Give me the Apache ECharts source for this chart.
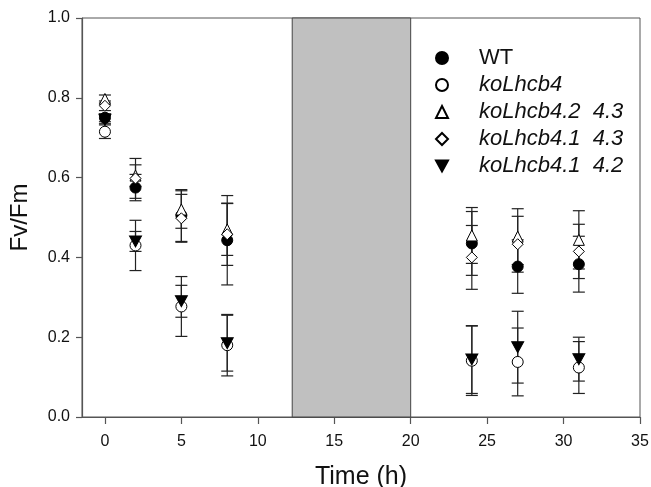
<!DOCTYPE html>
<html>
<head>
<meta charset="utf-8">
<script src="https://cdn.jsdelivr.net/npm/echarts@6/dist/echarts.min.js"></script>
<style>
  html, body { margin: 0; padding: 0; background: #fff; }
  #grafico { width: 651px; height: 487px; }
</style>
</head>
<body>
<div id="grafico"></div>
<script>
// time points (h)
var times = [0, 2, 5, 8, 24, 27, 31];
var xTicks = [0, 5, 10, 15, 20, 25, 30, 35];
// dark period shaded in grey
var darkStart = 12.25;
var darkEnd = 20;

var names = ['WT', 'koLhcb4', 'koLhcb4.2  4.3', 'koLhcb4.1  4.3', 'koLhcb4.1  4.2'];

var wtMean = [0.75, 0.575, 0.505, 0.443, 0.435, 0.377, 0.383];
var wtErr = [0.01, 0.033, 0.065, 0.112, 0.08, 0.067, 0.07];
var ko4Mean = [0.715, 0.43, 0.277, 0.18, 0.141, 0.138, 0.124];
var ko4Err = [0.017, 0.063, 0.075, 0.077, 0.087, 0.085, 0.065];
var ko4243Mean = [0.797, 0.605, 0.52, 0.47, 0.455, 0.452, 0.444];
var ko4243Err = [0.01, 0.027, 0.047, 0.065, 0.07, 0.07, 0.073];
var ko4143Mean = [0.78, 0.598, 0.498, 0.458, 0.40, 0.433, 0.415];
var ko4143Err = [0.012, 0.05, 0.06, 0.078, 0.08, 0.07, 0.068];
var ko4142Mean = [0.745, 0.44, 0.29, 0.185, 0.144, 0.175, 0.145];
var ko4142Err = [0.01, 0.025, 0.04, 0.07, 0.085, 0.09, 0.055];

var means = [wtMean, ko4Mean, ko4243Mean, ko4143Mean, ko4142Mean];
var errs = [wtErr, ko4Err, ko4243Err, ko4143Err, ko4142Err];

var symbols = ['circle', 'circle', 'triangle', 'diamond', 'path://M0,0 L10,0 L5,9 Z'];
var fills = ['#000', '#fff', '#fff', '#fff', '#000'];

var myChart = echarts.init(document.getElementById('grafico'));

// all error bars in one custom series
var errData = [];
for (var s = 0; s < means.length; s++) {
  for (var i = 0; i < times.length; i++) {
    errData.push([times[i], means[s][i] - errs[s][i], means[s][i] + errs[s][i]]);
  }
}

function renderErr(params, api) {
  var lo = api.coord([api.value(0), api.value(1)]);
  var hi = api.coord([api.value(0), api.value(2)]);
  var w = 6;
  var st = { stroke: '#222', lineWidth: 1.2 };
  return {
    type: 'group',
    children: [
      { type: 'line', shape: { x1: lo[0], y1: lo[1], x2: hi[0], y2: hi[1] }, style: st },
      { type: 'line', shape: { x1: lo[0] - w, y1: lo[1], x2: lo[0] + w, y2: lo[1] }, style: st },
      { type: 'line', shape: { x1: hi[0] - w, y1: hi[1], x2: hi[0] + w, y2: hi[1] }, style: st }
    ]
  };
}

var series = [{
  type: 'custom',
  name: 'err',
  renderItem: renderErr,
  data: errData,
  z: 3,
  silent: true,
  markArea: {
    silent: true,
    itemStyle: { color: '#c0c0c0', borderColor: '#444', borderWidth: 1 },
    data: [[{ xAxis: darkStart, yAxis: 0 }, { xAxis: darkEnd, yAxis: 1 }]]
  }
}];

for (var k = 0; k < means.length; k++) {
  series.push({
    name: names[k],
    type: 'scatter',
    symbol: symbols[k],
    symbolSize: k === 4 ? [12, 11] : 11,
    z: 4 + k,
    itemStyle: { color: fills[k], borderColor: '#000', borderWidth: 1, opacity: 1 },
    data: times.map(function (t, i) { return [t, means[k][i]]; })
  });
}

var option = {
  animation: false,
  backgroundColor: '#fff',
  textStyle: { fontFamily: 'Liberation Sans, Arial, sans-serif', color: '#111' },
  grid: {
    left: 82, right: 11, top: 18, bottom: 70,
    outerBoundsMode: 'none',
    containLabel: false,
    show: true, borderColor: '#555', borderWidth: 1
  },
  legend: {
    data: names,
    orient: 'vertical',
    left: 430,
    top: 42,
    itemWidth: 12,
    itemHeight: 12,
    itemGap: 5,
    selectedMode: false,
    textStyle: {
      fontSize: 22,
      color: '#111',
      padding: [0, 0, 0, 26],
      rich: {
        r: { fontSize: 22, color: '#111', lineHeight: 21 },
        it: { fontSize: 22, color: '#111', fontStyle: 'italic', lineHeight: 21 }
      }
    },
    formatter: function (n) {
      return n === 'WT' ? '{r|' + n + '}' : '{it|' + n + '}';
    }
  },
  xAxis: {
    type: 'value',
    min: -1.5,
    max: 35,
    name: 'Time (h)',
    nameLocation: 'middle',
    nameGap: 48,
    nameTextStyle: { fontSize: 25, color: '#111' },
    axisLine: { onZero: false, lineStyle: { color: '#555', width: 1.2 } },
    axisTick: { customValues: xTicks, length: 7, lineStyle: { color: '#555', width: 1.2 } },
    axisLabel: { customValues: xTicks, fontSize: 16, color: '#111', margin: 17 },
    splitLine: { show: false }
  },
  yAxis: {
    type: 'value',
    min: 0,
    max: 1,
    interval: 0.2,
    name: 'Fv/Fm',
    nameLocation: 'middle',
    nameGap: 50,
    nameRotate: 90,
    nameTextStyle: { fontSize: 24, color: '#111' },
    axisLine: { show: true, onZero: false, lineStyle: { color: '#555', width: 1.2 } },
    axisTick: { show: true, length: 6, lineStyle: { color: '#555', width: 1.2 } },
    axisLabel: {
      fontSize: 16, color: '#111', margin: 12,
      formatter: function (v) { return v.toFixed(1); }
    },
    splitLine: { show: false }
  },
  series: series
};

option && myChart.setOption(option);
</script>
</body>
</html>
